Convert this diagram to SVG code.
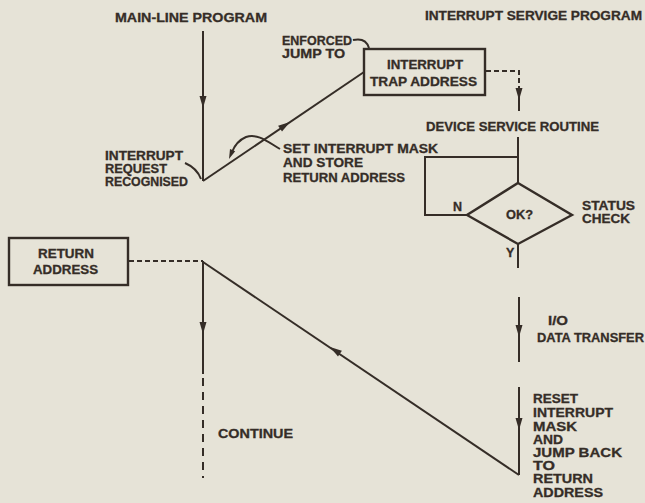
<svg xmlns="http://www.w3.org/2000/svg" width="645" height="503" viewBox="0 0 645 503">
<defs>
<style>
.t{font-family:"Liberation Sans",Arial,sans-serif;font-weight:bold;font-size:12.5px;fill:#352d27;stroke:#352d27;stroke-width:0.3}
.ln{stroke:#352d27;stroke-width:2;fill:none}
.ds{stroke:#352d27;stroke-width:2;fill:none;stroke-dasharray:5 3}
.bx{stroke:#352d27;stroke-width:2.4;fill:none}
.ah{fill:#352d27}
</style>
<path id="ah" d="M0,0 L-12,-3.5 L-12,3.5 Z"/>
</defs>
<rect width="645" height="503" fill="#e6e3d7"/>

<g id="titles">
<text class="t" x="115" y="22" textLength="152" lengthAdjust="spacingAndGlyphs">MAIN-LINE PROGRAM</text>
<text class="t" x="425" y="20" textLength="217" lengthAdjust="spacingAndGlyphs">INTERRUPT SERVIGE PROGRAM</text>
</g>

<g id="connectors">
<line class="ln" x1="203" y1="31" x2="203" y2="181"/>
<use href="#ah" class="ah" transform="translate(203,108) rotate(90)"/>
<line class="ln" x1="203" y1="181" x2="364" y2="72"/>
<use href="#ah" class="ah" transform="translate(290,122) rotate(-34)"/>
<polyline class="ds" points="486,71 519,71 519,90"/>
<line class="ln" x1="519" y1="88" x2="519" y2="111"/>
<use href="#ah" class="ah" transform="translate(519,100) rotate(90)"/>
<line class="ln" x1="518" y1="137" x2="518" y2="183"/>
<polyline class="ln" points="467,215 425,215 425,157 518,157"/>
<line class="ln" x1="518" y1="243" x2="518" y2="268"/>
<line class="ln" x1="519" y1="297" x2="519" y2="362"/>
<use href="#ah" class="ah" transform="translate(519,337) rotate(90)"/>
<line class="ln" x1="519" y1="387" x2="519" y2="475"/>
<use href="#ah" class="ah" transform="translate(519,430) rotate(90)"/>
<line class="ln" x1="519" y1="475" x2="203" y2="262"/>
<use href="#ah" class="ah" transform="translate(330,347) rotate(-146)"/>
<line class="ds" x1="129" y1="261" x2="203" y2="261"/>
<line class="ln" x1="203" y1="261" x2="203" y2="374"/>
<use href="#ah" class="ah" transform="translate(203,334) rotate(90)"/>
<line class="ln" x1="203" y1="378" x2="203" y2="478" stroke-dasharray="8 6"/>
<path class="ln" d="M185,163 C192,166 198,171 201,179"/>
<path class="ln" d="M280,149 C268,142 258,133 246,137 C239,140 234,147 232,152"/>
<use href="#ah" class="ah" transform="translate(229,159) rotate(112) scale(0.8)"/>
<path class="ln" d="M353,40 C362,38 367,41 369,48"/>
</g>

<g id="trap-box">
<rect class="bx" x="364" y="49" width="121" height="46"/>
<text class="t" x="387" y="69" textLength="76" lengthAdjust="spacingAndGlyphs">INTERRUPT</text>
<text class="t" x="370" y="86" textLength="107" lengthAdjust="spacingAndGlyphs">TRAP ADDRESS</text>
</g>

<g id="enforced-label">
<text class="t" x="282" y="45" textLength="70" lengthAdjust="spacingAndGlyphs">ENFORCED</text>
<text class="t" x="282" y="58" textLength="63" lengthAdjust="spacingAndGlyphs">JUMP TO</text>
</g>

<g id="request-label">
<text class="t" x="105" y="160" textLength="78" lengthAdjust="spacingAndGlyphs">INTERRUPT</text>
<text class="t" x="105" y="173" textLength="62" lengthAdjust="spacingAndGlyphs">REQUEST</text>
<text class="t" x="105" y="186" textLength="83" lengthAdjust="spacingAndGlyphs">RECOGNISED</text>
</g>

<g id="mask-label">
<text class="t" x="283" y="153" textLength="155" lengthAdjust="spacingAndGlyphs">SET INTERRUPT MASK</text>
<text class="t" x="283" y="167" textLength="80" lengthAdjust="spacingAndGlyphs">AND STORE</text>
<text class="t" x="283" y="182" textLength="122" lengthAdjust="spacingAndGlyphs">RETURN ADDRESS</text>
</g>

<g id="device-routine">
<text class="t" x="426" y="131" textLength="173" lengthAdjust="spacingAndGlyphs">DEVICE SERVICE ROUTINE</text>
</g>

<g id="status-check">
<polygon class="bx" points="518,183 572,215 518,244 467,215"/>
<text class="t" x="506" y="219" textLength="27" lengthAdjust="spacingAndGlyphs">OK?</text>
<text class="t" x="453" y="211">N</text>
<text class="t" x="506" y="257">Y</text>
<text class="t" x="582" y="210" textLength="53" lengthAdjust="spacingAndGlyphs">STATUS</text>
<text class="t" x="582" y="223" textLength="48" lengthAdjust="spacingAndGlyphs">CHECK</text>
</g>

<g id="io-transfer">
<text class="t" x="548" y="325" textLength="20" lengthAdjust="spacingAndGlyphs">I/O</text>
<text class="t" x="537" y="342" textLength="107" lengthAdjust="spacingAndGlyphs">DATA TRANSFER</text>
</g>

<g id="reset-label">
<text class="t" x="533" y="403" textLength="45" lengthAdjust="spacingAndGlyphs">RESET</text>
<text class="t" x="533" y="417" textLength="80" lengthAdjust="spacingAndGlyphs">INTERRUPT</text>
<text class="t" x="533" y="431" textLength="44" lengthAdjust="spacingAndGlyphs">MASK</text>
<text class="t" x="533" y="444" textLength="30" lengthAdjust="spacingAndGlyphs">AND</text>
<text class="t" x="533" y="457" textLength="89" lengthAdjust="spacingAndGlyphs">JUMP BACK</text>
<text class="t" x="533" y="470" textLength="22" lengthAdjust="spacingAndGlyphs">TO</text>
<text class="t" x="533" y="483" textLength="60" lengthAdjust="spacingAndGlyphs">RETURN</text>
<text class="t" x="533" y="497" textLength="70" lengthAdjust="spacingAndGlyphs">ADDRESS</text>
</g>

<g id="return-box">
<rect class="bx" x="9" y="238" width="119" height="47"/>
<text class="t" x="38" y="258" textLength="56" lengthAdjust="spacingAndGlyphs">RETURN</text>
<text class="t" x="33" y="274" textLength="65" lengthAdjust="spacingAndGlyphs">ADDRESS</text>
</g>

<g id="continue">
<text class="t" x="218" y="438" textLength="75" lengthAdjust="spacingAndGlyphs">CONTINUE</text>
</g>
</svg>
